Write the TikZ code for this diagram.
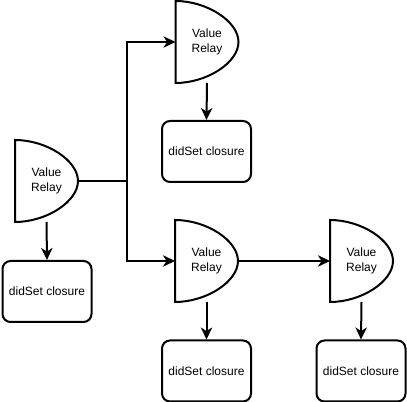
\documentclass[tikz,border=0pt]{standalone}
\usepackage{fontspec}
\setmainfont{Liberation Sans}
\usetikzlibrary{arrows.meta,calc}
\begin{document}
\begin{tikzpicture}[x=0.75pt,y=-0.75pt,
  line width=1.5pt,
  relay/.style={minimum width=61*0.75pt,minimum height=80*0.75pt,inner sep=0pt,align=center,font=\fontsize{9pt}{11pt}\selectfont},
  closurebox/.style={draw,rounded corners=6pt,minimum width=89*0.75pt,minimum height=61*0.75pt,inner sep=0pt,font=\fontsize{9pt}{11pt}\selectfont},
  conn/.style={-{Stealth[length=9pt,width=8.5pt,inset=2.7pt]}}
]
\useasboundingbox (0,0) rectangle (407,402);
\node[relay] (r1) at (46.5,181) {Value\\Relay};
\node[relay] (r2) at (207,42) {Value\\Relay};
\node[relay] (r3) at (206.5,261) {Value\\Relay};
\node[relay] (r4) at (361.5,261) {Value\\Relay};
\foreach \n in {r1,r2,r3,r4}{
  \draw[line join=miter] (\n.north west)
    .. controls ($(\n.north west)!0.5!(\n.north east)$) and ($(\n.east)!0.5!(\n.north east)$) .. (\n.east)
    .. controls ($(\n.east)!0.5!(\n.south east)$) and ($(\n.south west)!0.5!(\n.south east)$) .. (\n.south west)
    -- cycle;
}
\node[closurebox] (c1) at (47,291.5) {didSet closure};
\node[closurebox] (c2) at (206.5,151.5) {didSet closure};
\node[closurebox] (c3) at (206.5,371) {didSet closure};
\node[closurebox] (c4) at (361,371) {didSet closure};
\coordinate (j) at (127,181);
\draw (r1.east) -- (j);
\draw[conn] (j) |- (r2.west);
\draw[conn] (j) |- (r3.west);
\draw[conn] (r3.east) -- (r4.west);
\foreach \a/\b in {r1/c1,r2/c2,r3/c3,r4/c4}{
  \draw[conn] (\a.south) -- (\b.north);
}
\end{tikzpicture}
\end{document}
